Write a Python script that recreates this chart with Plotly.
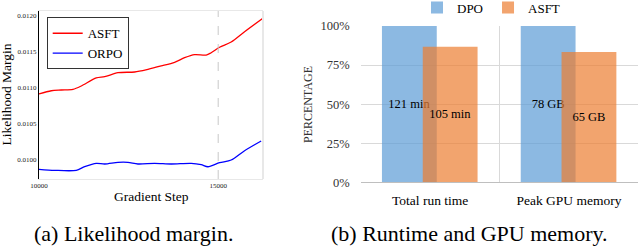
import plotly.graph_objects as go

# ---------------- data: (a) likelihood margin ----------------
asft_steps = [10000, 10343, 10622, 10948, 11180, 11598, 11832, 12203, 12669, 13040,
              13410, 13784, 14063, 14342, 14665, 14805, 15039, 15362, 15736, 16246]
asft_margin = [0.010915, 0.010960, 0.010970, 0.010980, 0.011026, 0.011137, 0.011155,
               0.011210, 0.011220, 0.011257, 0.011303, 0.011354, 0.011418, 0.011460,
               0.011455, 0.011487, 0.011562, 0.011635, 0.011778, 0.011964]
orpo_steps = [10000, 10438, 11040, 11274, 11598, 11832, 12203, 12482, 12761, 13226,
              13689, 14247, 14526, 14713, 15039, 15362, 15736, 16199]
orpo_margin = [0.009871, 0.009857, 0.009857, 0.009907, 0.009954, 0.009945, 0.009968,
               0.009968, 0.009945, 0.009954, 0.009945, 0.009954, 0.009935, 0.009907,
               0.009963, 0.010000, 0.010129, 0.010263]
margin_yticks = [0.0100, 0.0105, 0.0110, 0.0115, 0.0120]
margin_ytick_text = ["0.0100", "0.0105", "0.0110", "0.0115", "0.0120"]
step_ticks = [10000, 15000]
step_tick_text = ["10000", "15000"]
marker_step = 15000

# ---------------- data: (b) runtime & memory ----------------
resource_cats = ["Total run time", "Peak GPU memory"]
dpo_pct = [1.00, 1.00]
asft_pct = [0.868, 0.833]
dpo_labels = ["121 min", "78 GB"]
asft_labels = ["105 min", "65 GB"]
pct_ticks = [0, 0.25, 0.5, 0.75, 1.0]

SERIF = "Liberation Serif, Times New Roman, serif"
W, H = 640, 248

fig = go.Figure()

# left panel lines
fig.add_trace(go.Scatter(x=asft_steps, y=asft_margin, mode="lines", name="ASFT",
                         line=dict(color="#ff0000", width=1.3, shape="spline", smoothing=0.8),
                         xaxis="x", yaxis="y", legend="legend"))
fig.add_trace(go.Scatter(x=orpo_steps, y=orpo_margin, mode="lines", name="ORPO",
                         line=dict(color="#0000ff", width=1.3, shape="spline", smoothing=0.8),
                         xaxis="x", yaxis="y", legend="legend"))

# right panel bars
bar_w = 0.395
fig.add_trace(go.Bar(x=resource_cats, y=dpo_pct, name="DPO", text=dpo_labels,
                     marker=dict(color="rgba(91,155,213,0.7)", line=dict(width=0)),
                     width=bar_w, offset=-0.347,
                     textposition="inside", insidetextanchor="middle", textangle=0,
                     textfont=dict(family=SERIF, size=12.5, color="#000"),
                     xaxis="x2", yaxis="y2", legend="legend2"))
fig.add_trace(go.Bar(x=resource_cats, y=asft_pct, name="ASFT", text=asft_labels,
                     marker=dict(color="rgba(237,125,49,0.7)", line=dict(width=0)),
                     width=bar_w, offset=-0.053,
                     textposition="inside", insidetextanchor="middle", textangle=0,
                     textfont=dict(family=SERIF, size=12.5, color="#000"),
                     xaxis="x2", yaxis="y2", legend="legend2"))

# geometry (px -> paper)
def px(x):
    return x / W

def py(y):
    return 1 - y / H

fig.update_layout(
    width=W, height=H,
    margin=dict(l=0, r=0, t=0, b=0, autoexpand=False),
    paper_bgcolor="white", plot_bgcolor="white",
    font=dict(family=SERIF, color="#000"),
    barmode="overlay",
    showlegend=True,
    uniformtext=dict(mode="show", minsize=8),
    xaxis=dict(domain=[px(39), px(263)], range=[10000, 16250], automargin=False,
               tickvals=step_ticks, ticktext=step_tick_text,
               tickfont=dict(size=7, color="#222"), ticks="",
               showgrid=False, zeroline=False,
               showline=True, linecolor="#e8e8e8", linewidth=1, mirror=True,
               anchor="y"),
    yaxis=dict(domain=[py(179), py(11)], range=[0.009737, 0.012065], automargin=False,
               tickvals=margin_yticks, ticktext=margin_ytick_text,
               tickfont=dict(size=7, color="#222"), ticks="",
               showgrid=False, zeroline=False,
               showline=True, linecolor="#000", linewidth=1.3,
               anchor="x"),
    xaxis2=dict(domain=[px(360.7), px(638.3)], range=[-0.5, 1.5], automargin=False,
                type="category", tickson="boundaries",
                showgrid=True, gridcolor="#d9d9d9", gridwidth=1,
                showline=True, linecolor="#bfbfbf", linewidth=1,
                ticks="", tickfont=dict(size=13.5, color="#000"),
                ticklabelstandoff=5,
                anchor="y2"),
    yaxis2=dict(domain=[py(182.3), py(26)], range=[0, 1.0], automargin=False,
                tickvals=pct_ticks, tickformat=".0%",
                showgrid=True, gridcolor="#d9d9d9", gridwidth=1,
                zeroline=False, showline=False, ticks="",
                tickfont=dict(size=12.5, color="#333"),
                ticklabelstandoff=10,
                anchor="x2"),
    legend=dict(x=px(46.7), y=py(17.3), xanchor="left", yanchor="top",
                bgcolor="rgba(255,255,255,0.9)", bordercolor="#333", borderwidth=1,
                font=dict(family=SERIF, size=13, color="#000"),
                tracegroupgap=0),
    legend2=dict(orientation="h", x=px(417), y=py(7.5), xanchor="left", yanchor="middle",
                 bgcolor="rgba(0,0,0,0)", borderwidth=0,
                 font=dict(family=SERIF, size=13, color="#000")),
)

# reference line and light right spine of panel (a)
fig.add_shape(type="line", xref="x", yref="y domain", x0=marker_step, x1=marker_step,
              y0=0, y1=1, line=dict(color="#c8c8c8", width=1, dash="dash"))
fig.add_shape(type="line", xref="x domain", yref="y domain", x0=1, x1=1, y0=0, y1=1,
              line=dict(color="#e8e8e8", width=2))

# axis titles and captions
def note(text, x, y, size, angle=0, color="#000"):
    fig.add_annotation(text=text, x=px(x), y=py(y), xref="paper", yref="paper",
                       xanchor="center", yanchor="middle", textangle=angle,
                       showarrow=False, font=dict(size=size, family=SERIF, color=color))

note("Likelihood Margin", 5.5, 95, 13.5, angle=-90)
note("Gradient Step", 151, 196, 13.5)
note("PERCENTAGE", 308, 105, 12, angle=-90, color="#333")
note("(a) Likelihood margin.", 133, 233, 22)
note("(b) Runtime and GPU memory.", 469, 233, 22)

fig.write_html("out.html",
               config={"displayModeBar": False},
               post_script="document.body.style.margin='0';document.body.style.overflow='hidden';")
